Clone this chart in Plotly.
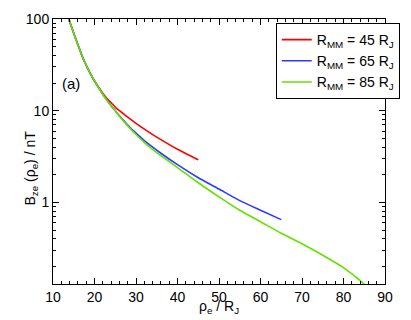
import plotly.graph_objects as go

# radial distance (R_J) and Bze (nT)
rho_45 = [13.8, 15, 16, 17, 18, 19, 20, 21, 22, 23, 24, 25, 26, 27, 28, 30, 33, 36, 40, 45]
bz_45 = [100, 70.0, 52.5, 39.8, 31.3, 25.4, 21.1, 18.0, 15.5, 13.6, 12.2, 10.96, 10.0, 9.23,
         8.51, 7.28, 5.89, 4.84, 3.80, 2.92]

rho_65 = [13.8, 15, 16, 17, 18, 19, 20, 21, 22, 23, 24, 25, 26, 28, 30, 32, 33, 36, 40, 45,
          50, 55, 60, 65]
bz_65 = [100, 70.0, 52.5, 39.8, 31.3, 25.4, 21.1, 17.8, 15.1, 13.0, 11.35, 10.0, 8.81, 7.0,
         5.69, 4.73, 4.34, 3.44, 2.58, 1.86, 1.40, 1.047, 0.822, 0.65]

rho_85 = [13.8, 15, 16, 17, 18, 19, 20, 21, 22, 23, 24, 25, 26, 28, 30, 32, 33, 36, 40, 45,
          50, 55, 60, 65, 70, 75, 80, 82.5, 85]
bz_85 = [100, 70.0, 52.5, 39.8, 31.3, 25.4, 21.1, 17.8, 15.1, 13.0, 11.35, 10.0, 8.71, 6.84,
         5.50, 4.52, 4.12, 3.24, 2.40, 1.64, 1.15, 0.822, 0.617, 0.462, 0.355, 0.266, 0.195,
         0.160, 0.129]

etiquetas = ["R<sub>MM</sub> = 45 R<sub>J</sub>",
             "R<sub>MM</sub> = 65 R<sub>J</sub>",
             "R<sub>MM</sub> = 85 R<sub>J</sub>"]
colores = ["#ff0000", "#2a3cff", "#66e000"]

fig = go.Figure()
for xs, ys, nombre, color in zip([rho_45, rho_65, rho_85], [bz_45, bz_65, bz_85], etiquetas, colores):
    fig.add_trace(go.Scatter(x=xs, y=ys, mode="lines", name=nombre,
                             line=dict(color=color, width=1.6, shape="spline", smoothing=0.5)))

fuente = "Liberation Sans, Arial"
ejes = dict(showline=True, linecolor="black", linewidth=1, mirror="allticks",
            ticks="inside", tickcolor="black", showgrid=False, zeroline=False,
            tickfont=dict(family=fuente, size=14, color="black"))

menores_y = [0.2, 0.3, 0.4, 0.5, 0.6, 0.7, 0.8, 0.9, 2, 3, 4, 5, 6, 7, 8, 9,
             20, 30, 40, 50, 60, 70, 80, 90]

fig.update_layout(
    width=411, height=320,
    margin=dict(l=53, r=11, t=11, b=36),
    paper_bgcolor="white", plot_bgcolor="white",
    font=dict(family=fuente, size=14, color="black"),
    xaxis=dict(range=[10, 90], dtick=10, ticklen=6,
               minor=dict(dtick=2, ticks="inside", ticklen=3, tickcolor="black"),
               **ejes),
    yaxis=dict(type="log", range=[-0.889, 2], tickvals=[1, 10, 100],
               ticktext=["1", "10", "100"], ticklen=6,
               minor=dict(tickmode="array", tickvals=menores_y, ticks="inside",
                          ticklen=3, tickcolor="black"),
               **ejes),
    legend=dict(x=0.671, y=0.985, xanchor="left", yanchor="top",
                bgcolor="white", bordercolor="black", borderwidth=1,
                font=dict(size=14), tracegroupgap=0, itemwidth=30),
    showlegend=True,
)

# titulos de los ejes
fig.add_annotation(text="ρ<sub>e</sub> / R<sub>J</sub>", xref="paper", yref="paper",
                   x=0.50, y=-0.088, showarrow=False, xanchor="center", yanchor="middle",
                   font=dict(size=14))
fig.add_annotation(text="B<sub>ze</sub> (ρ<sub>e</sub>) / nT", xref="paper", yref="paper",
                   x=-0.066, y=0.436, showarrow=False, textangle=-90,
                   xanchor="center", yanchor="middle", font=dict(size=14))

fig.add_annotation(text="(a)", xref="paper", yref="paper", x=0.055, y=0.755,
                   showarrow=False, xanchor="center", yanchor="middle",
                   font=dict(size=15))

# quitar el margen del body para que la figura quede en (0, 0)
fig.write_html("out.html", config={"displayModeBar": False},
               post_script="document.body.style.margin='0';")
